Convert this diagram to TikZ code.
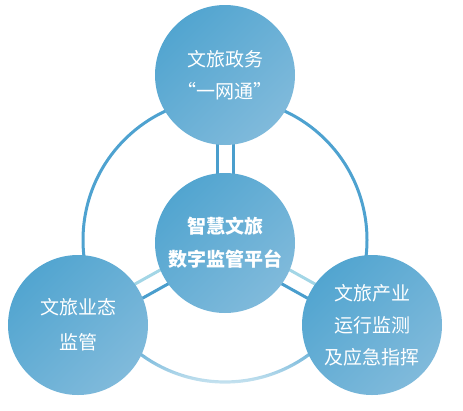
\documentclass[tikz,border=0pt]{standalone}
\usepackage{fontspec}
\newfontfamily\cjk{Noto Sans CJK SC}
\usetikzlibrary{calc}

\definecolor{circdark}{HTML}{52A5D0}
\definecolor{circlight}{HTML}{80BADB}
\definecolor{ringblue}{HTML}{4EA2D0}
\definecolor{ringmid}{HTML}{90CFDD}
\definecolor{ringfade}{HTML}{EEF8FA}
\definecolor{linkblue}{HTML}{4A9ECD}
\definecolor{linklight}{HTML}{A3D6E6}

\tikzset{
    % Outer topic circles
    topic/.style={
        circle,
        minimum size=140pt,
        inner sep=0pt,
        top color=circdark,
        bottom color=circlight,
        shading angle=45,
        text=white,
        align=center,
        font=\cjk\fontsize{19}{32}\selectfont
    },
    % Central platform circle
    hubcircle/.style={
        topic,
        font=\cjk\bfseries\fontsize{19}{33}\selectfont
    },
    % Big ring behind the circles
    ringline/.style={
        draw=ringblue,
        line width=3pt
    },
    % Double connector lines
    link/.style={
        line width=3pt
    }
}

\begin{document}
\begin{tikzpicture}[x=1pt, y=1pt]

\useasboundingbox (0,0) rectangle (463,-410);

% ==================== RING ====================
\coordinate (ring) at (225,-240);
\draw[ringline] ($(ring)+(315:142)$) arc[start angle=315, end angle=585, radius=142];

% Faded lower part
\shade[top color=ringblue, middle color=ringmid, bottom color=ringfade]
    ($(ring)+(225:143.6)$) arc[start angle=225, end angle=315, radius=143.6]
    -- ($(ring)+(315:140.4)$) arc[start angle=315, end angle=225, radius=140.4] -- cycle;

% ==================== NODE CENTRES ====================
\coordinate (hubc) at (225,-243);
\coordinate (topc) at (225,-75);
\coordinate (leftc) at (78,-325);
\coordinate (rightc) at (372,-325);

% ==================== CONNECTORS ====================
% Hub to top
\draw[link, draw=linkblue] ($(hubc)!8pt!90:(topc)$) -- ($(topc)!8pt!-90:(hubc)$);
\draw[link, draw=linkblue] ($(hubc)!8pt!-90:(topc)$) -- ($(topc)!8pt!90:(hubc)$);

% Hub to left
\draw[link, draw=linkblue] ($(hubc)!8pt!90:(leftc)$) -- ($(leftc)!8pt!-90:(hubc)$);
\draw[link, draw=linklight] ($(hubc)!8pt!-90:(leftc)$) -- ($(leftc)!8pt!90:(hubc)$);

% Hub to right
\draw[link, draw=linklight] ($(hubc)!8pt!90:(rightc)$) -- ($(rightc)!8pt!-90:(hubc)$);
\draw[link, draw=linkblue] ($(hubc)!8pt!-90:(rightc)$) -- ($(rightc)!8pt!90:(hubc)$);

% ==================== CIRCLES ====================
\node[topic] (top) at (topc) {文旅政务\\“一网通”};
\node[topic, font=\cjk\fontsize{19}{35}\selectfont] (left) at (leftc) {文旅业态\\监管};
\node[topic] (right) at (rightc) {文旅产业\\运行监测\\及应急指挥};
\node[hubcircle] (hub) at (hubc) {智慧文旅\\数字监管平台};

\end{tikzpicture}
\end{document}
